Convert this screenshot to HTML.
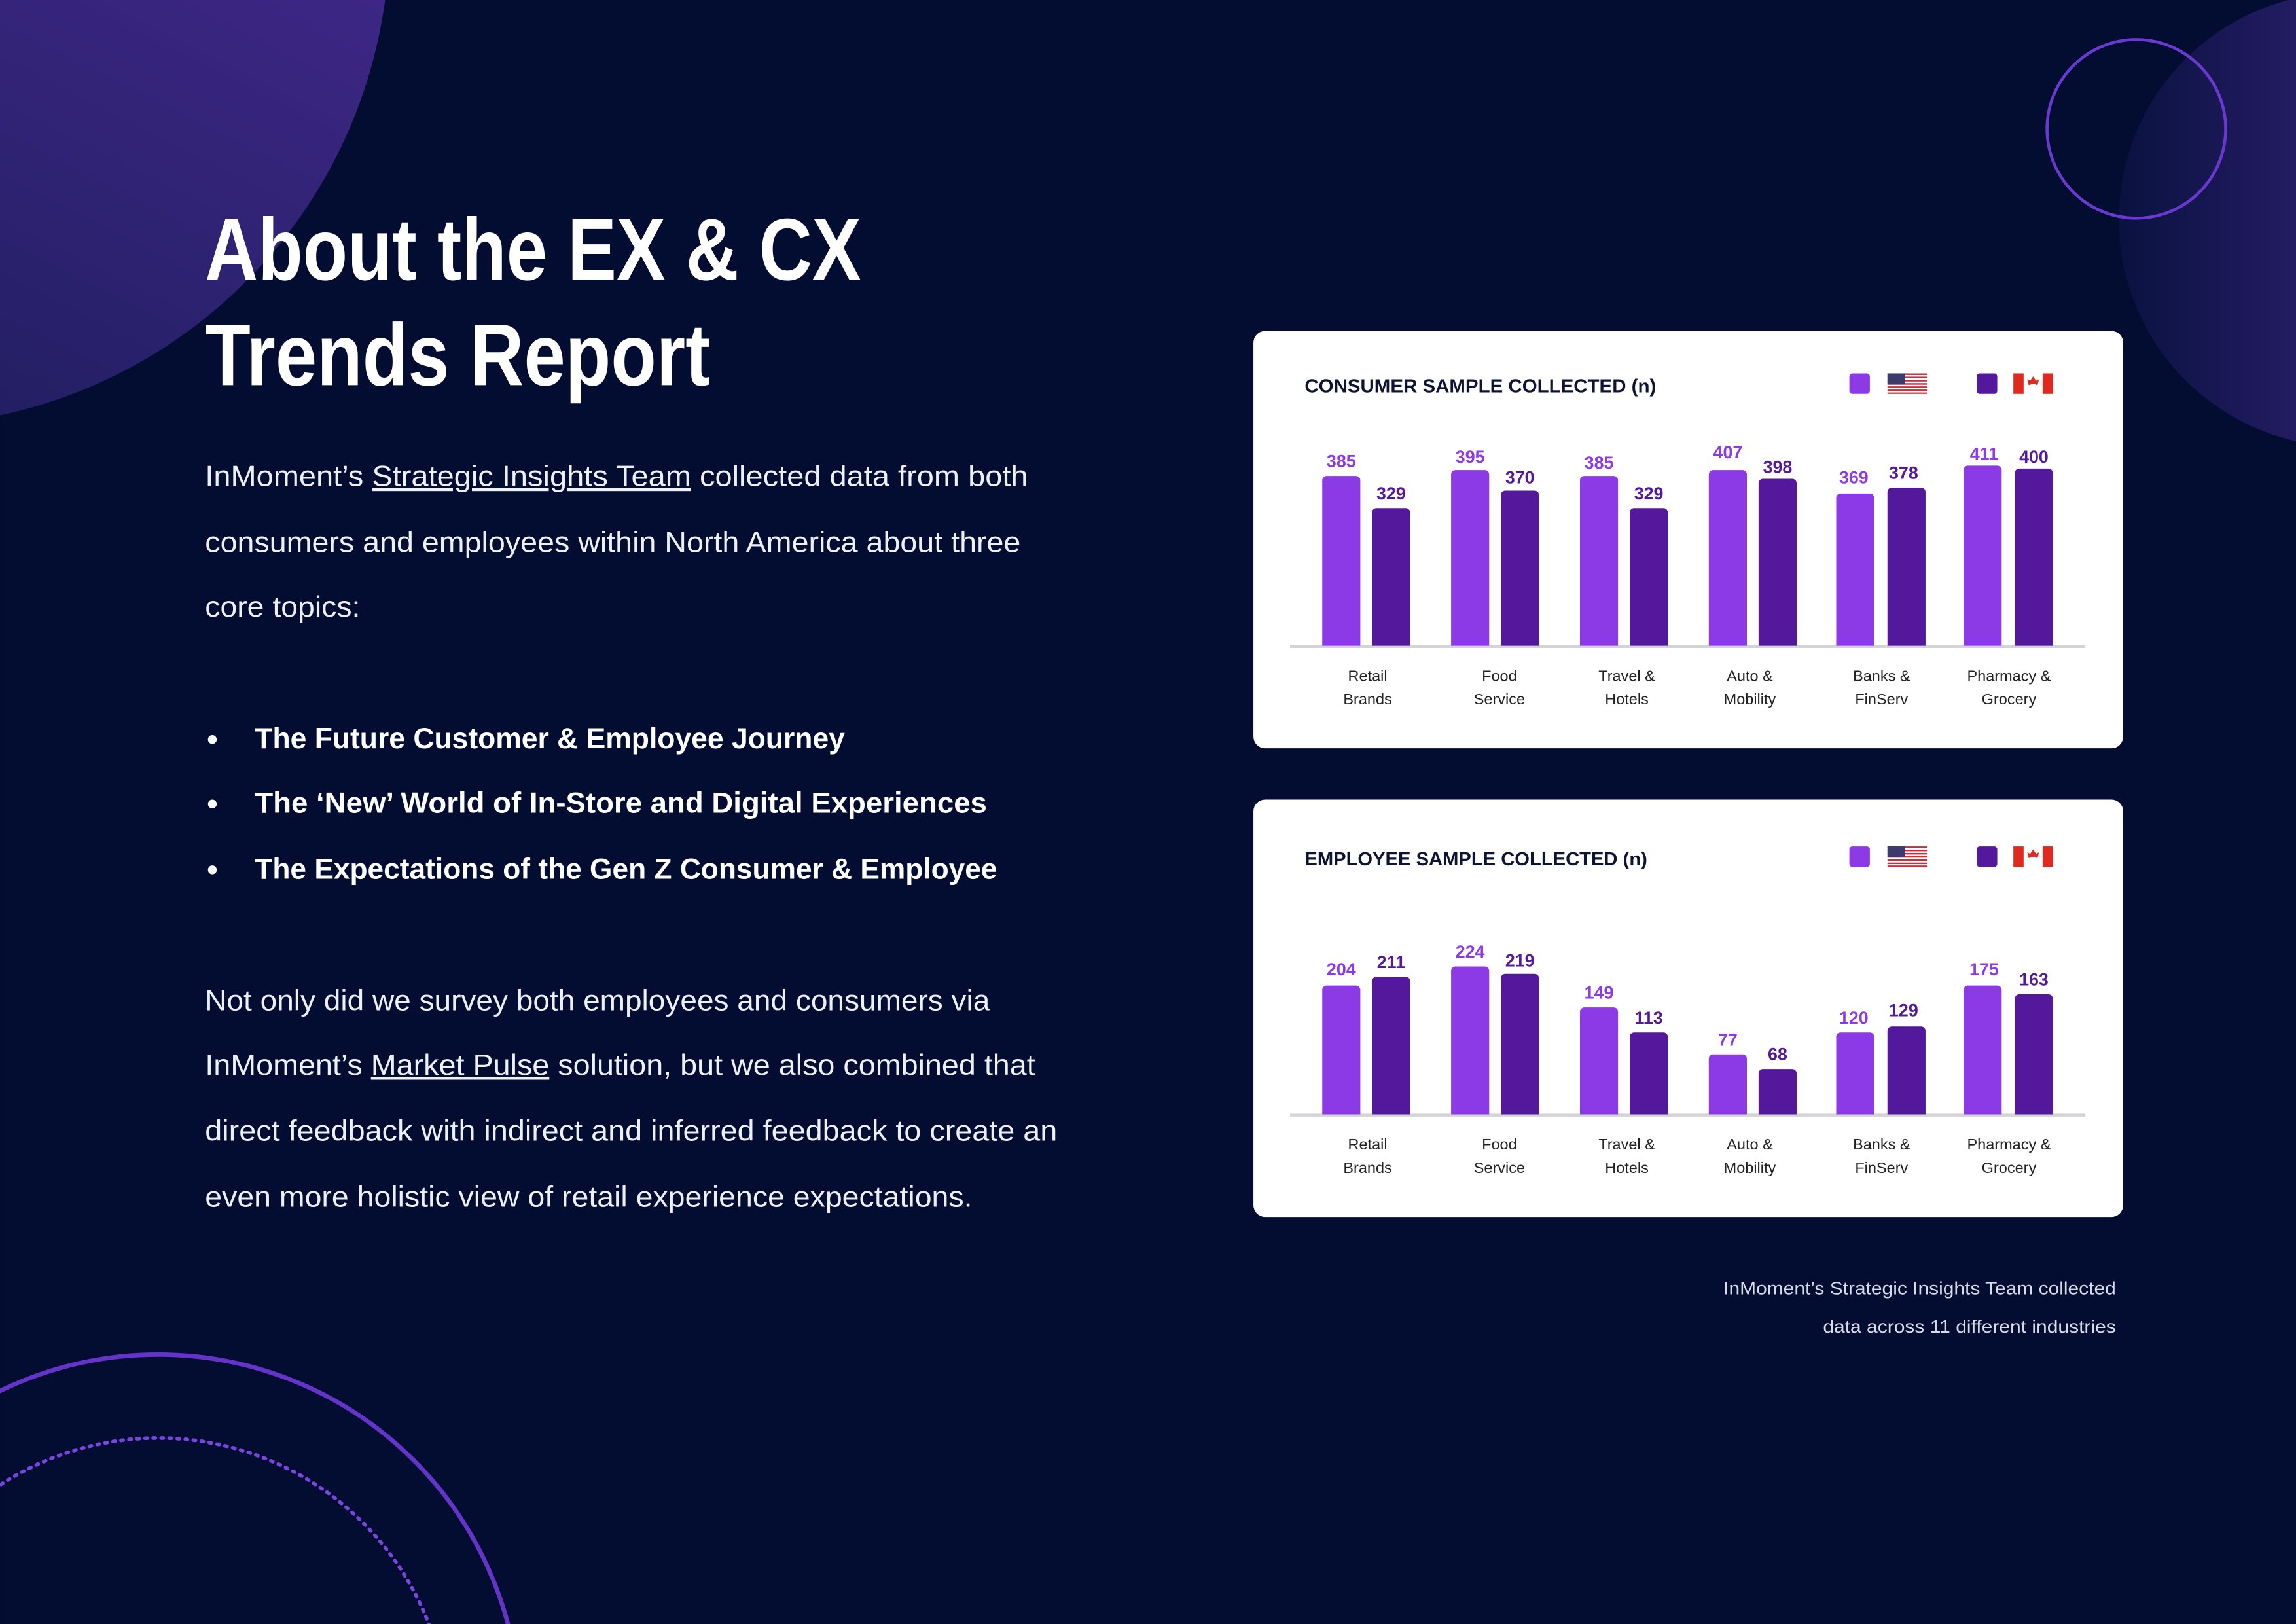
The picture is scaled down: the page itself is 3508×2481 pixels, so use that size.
<!DOCTYPE html>
<html><head><meta charset="utf-8"><style>
html,body{margin:0;padding:0;background:#020d31;width:3508px;height:2481px;overflow:hidden;}
svg{display:block}
text{font-family:"Liberation Sans",sans-serif}
</style></head><body>
<svg width="3508" height="2481" viewBox="0 0 1568 1109" xmlns="http://www.w3.org/2000/svg">
<defs>
<linearGradient id="g1" x1="0.7" y1="0" x2="0.2" y2="1">
<stop offset="0" stop-color="#4f2c9c"/><stop offset="1" stop-color="#1a1c58"/></linearGradient>
<linearGradient id="g2" x1="0" y1="0" x2="1" y2="0">
<stop offset="0" stop-color="#0a1240"/><stop offset="1" stop-color="#4a2a98"/></linearGradient>
</defs>
<rect width="1568" height="1109" fill="#020d31"/>
<circle cx="-70" cy="-45" r="336" fill="url(#g1)"/>
<circle cx="1602" cy="150" r="155" fill="url(#g2)"/>
<circle cx="1459" cy="88" r="61" fill="none" stroke="#6a3ad0" stroke-width="2"/>
<circle cx="108" cy="1172" r="247" fill="none" stroke="#6433c8" stroke-width="3"/>
<circle cx="108" cy="1180" r="198" fill="none" stroke="#7a45dc" stroke-width="2.5" stroke-dasharray="1.5 4" stroke-linecap="round"/>

<g fill="#fff" font-weight="bold">
<text x="140" y="191" font-size="60" textLength="448" lengthAdjust="spacingAndGlyphs">About the EX &amp; CX</text>
<text x="140" y="263" font-size="60" textLength="345" lengthAdjust="spacingAndGlyphs">Trends Report</text>
</g>
<g fill="#eef0f8" font-size="20">
<text x="140" y="332" textLength="562" lengthAdjust="spacingAndGlyphs">InMoment’s <tspan text-decoration="underline">Strategic Insights Team</tspan> collected data from both</text>
<text x="140" y="377" textLength="557" lengthAdjust="spacingAndGlyphs">consumers and employees within North America about three</text>
<text x="140" y="421" textLength="106" lengthAdjust="spacingAndGlyphs">core topics:</text>
<text x="140" y="690" textLength="536" lengthAdjust="spacingAndGlyphs">Not only did we survey both employees and consumers via</text>
<text x="140" y="734" textLength="567" lengthAdjust="spacingAndGlyphs">InMoment’s <tspan text-decoration="underline">Market Pulse</tspan> solution, but we also combined that</text>
<text x="140" y="779" textLength="582" lengthAdjust="spacingAndGlyphs">direct feedback with indirect and inferred feedback to create an</text>
<text x="140" y="824" textLength="524" lengthAdjust="spacingAndGlyphs">even more holistic view of retail experience expectations.</text>
</g>
<g fill="#fff" font-size="20" font-weight="bold">
<circle cx="145" cy="505" r="3"/><circle cx="145" cy="549" r="3"/><circle cx="145" cy="594" r="3"/>
<text x="174" y="511" textLength="403" lengthAdjust="spacingAndGlyphs">The Future Customer &amp; Employee Journey</text>
<text x="174" y="555" textLength="500" lengthAdjust="spacingAndGlyphs">The ‘New’ World of In-Store and Digital Experiences</text>
<text x="174" y="600" textLength="507" lengthAdjust="spacingAndGlyphs">The Expectations of the Gen Z Consumer &amp; Employee</text>
</g>
<g fill="#d8dbe8" font-size="12.5" text-anchor="end">
<text x="1445" y="884" textLength="268" lengthAdjust="spacingAndGlyphs">InMoment’s Strategic Insights Team collected</text>
<text x="1445" y="910" textLength="200" lengthAdjust="spacingAndGlyphs">data across 11 different industries</text>
</g>

<!-- Card 1 -->
<rect x="856" y="226" width="594" height="285" rx="8" fill="#fff"/>
<text x="891" y="268" font-size="13" font-weight="bold" fill="#0d1433" textLength="240" lengthAdjust="spacingAndGlyphs">CONSUMER SAMPLE COLLECTED (n)</text>
<rect x="1263" y="255" width="14" height="14" rx="2" fill="#8b3ae6"/>
<rect x="1350" y="255" width="14" height="14" rx="2" fill="#53189c"/>
<g id="flags">
<rect x="1289" y="255" width="27" height="14" fill="#fff"/>
<g fill="#c8303c"><rect x="1289" y="255" width="27" height="1.1"/><rect x="1289" y="257.2" width="27" height="1.1"/><rect x="1289" y="259.4" width="27" height="1.1"/><rect x="1289" y="261.6" width="27" height="1.1"/><rect x="1289" y="263.8" width="27" height="1.1"/><rect x="1289" y="266" width="27" height="1.1"/><rect x="1289" y="268" width="27" height="1"/></g>
<rect x="1289" y="255" width="12" height="7.5" fill="#3c3b6e"/>
<rect x="1375" y="255" width="27" height="14" fill="#fff"/>
<rect x="1375" y="255" width="7" height="14" fill="#e02a20"/><rect x="1395" y="255" width="7" height="14" fill="#e02a20"/>
<path d="M1388.5 257 l2 3 l2 -1 l-1 4 l-3 -1 l-3 1 l-1 -4 l2 1 z" fill="#e02a20"/>
</g>
<line x1="881" y1="441.5" x2="1424" y2="441.5" stroke="#d3d3d8" stroke-width="2"/>
<g>
<path d="M903 441V328a3 3 0 0 1 3-3h20a3 3 0 0 1 3 3V441z" fill="#8b3ae6"/>
<path d="M937 441V350a3 3 0 0 1 3-3h20a3 3 0 0 1 3 3V441z" fill="#53189c"/>
<path d="M991 441V324a3 3 0 0 1 3-3h20a3 3 0 0 1 3 3V441z" fill="#8b3ae6"/>
<path d="M1025 441V338a3 3 0 0 1 3-3h20a3 3 0 0 1 3 3V441z" fill="#53189c"/>
<path d="M1079 441V328a3 3 0 0 1 3-3h20a3 3 0 0 1 3 3V441z" fill="#8b3ae6"/>
<path d="M1113 441V350a3 3 0 0 1 3-3h20a3 3 0 0 1 3 3V441z" fill="#53189c"/>
<path d="M1167 441V324a3 3 0 0 1 3-3h20a3 3 0 0 1 3 3V441z" fill="#8b3ae6"/>
<path d="M1201 441V330a3 3 0 0 1 3-3h20a3 3 0 0 1 3 3V441z" fill="#53189c"/>
<path d="M1254 441V340a3 3 0 0 1 3-3h20a3 3 0 0 1 3 3V441z" fill="#8b3ae6"/>
<path d="M1289 441V336a3 3 0 0 1 3-3h20a3 3 0 0 1 3 3V441z" fill="#53189c"/>
<path d="M1341 441V321a3 3 0 0 1 3-3h20a3 3 0 0 1 3 3V441z" fill="#8b3ae6"/>
<path d="M1376 441V323a3 3 0 0 1 3-3h20a3 3 0 0 1 3 3V441z" fill="#53189c"/>
</g>
<g font-size="12" font-weight="bold" text-anchor="middle">
<g fill="#8b3ae6"><text x="916" y="319">385</text><text x="1004" y="316">395</text><text x="1092" y="320">385</text><text x="1180" y="313">407</text><text x="1266" y="330">369</text><text x="1355" y="314">411</text></g>
<g fill="#53189c"><text x="950" y="341">329</text><text x="1038" y="330">370</text><text x="1126" y="341">329</text><text x="1214" y="323">398</text><text x="1300" y="327">378</text><text x="1389" y="316">400</text></g>
</g>
<g font-size="10.5" fill="#222" text-anchor="middle">
<text x="934" y="465">Retail</text><text x="934" y="481">Brands</text>
<text x="1024" y="465">Food</text><text x="1024" y="481">Service</text>
<text x="1111" y="465">Travel &amp;</text><text x="1111" y="481">Hotels</text>
<text x="1195" y="465">Auto &amp;</text><text x="1195" y="481">Mobility</text>
<text x="1285" y="465">Banks &amp;</text><text x="1285" y="481">FinServ</text>
<text x="1372" y="465">Pharmacy &amp;</text><text x="1372" y="481">Grocery</text>
</g>

<!-- Card 2 -->
<rect x="856" y="546" width="594" height="285" rx="8" fill="#fff"/>
<text x="891" y="591" font-size="13" font-weight="bold" fill="#0d1433" textLength="234" lengthAdjust="spacingAndGlyphs">EMPLOYEE SAMPLE COLLECTED (n)</text>
<rect x="1263" y="578" width="14" height="14" rx="2" fill="#8b3ae6"/>
<rect x="1350" y="578" width="14" height="14" rx="2" fill="#53189c"/>
<use href="#flags" transform="translate(0,323)"/>
<line x1="881" y1="761.5" x2="1424" y2="761.5" stroke="#d3d3d8" stroke-width="2"/>
<g>
<path d="M903 761V676a3 3 0 0 1 3-3h20a3 3 0 0 1 3 3V761z" fill="#8b3ae6"/>
<path d="M937 761V670a3 3 0 0 1 3-3h20a3 3 0 0 1 3 3V761z" fill="#53189c"/>
<path d="M991 761V663a3 3 0 0 1 3-3h20a3 3 0 0 1 3 3V761z" fill="#8b3ae6"/>
<path d="M1025 761V668a3 3 0 0 1 3-3h20a3 3 0 0 1 3 3V761z" fill="#53189c"/>
<path d="M1079 761V691a3 3 0 0 1 3-3h20a3 3 0 0 1 3 3V761z" fill="#8b3ae6"/>
<path d="M1113 761V708a3 3 0 0 1 3-3h20a3 3 0 0 1 3 3V761z" fill="#53189c"/>
<path d="M1167 761V723a3 3 0 0 1 3-3h20a3 3 0 0 1 3 3V761z" fill="#8b3ae6"/>
<path d="M1201 761V733a3 3 0 0 1 3-3h20a3 3 0 0 1 3 3V761z" fill="#53189c"/>
<path d="M1254 761V708a3 3 0 0 1 3-3h20a3 3 0 0 1 3 3V761z" fill="#8b3ae6"/>
<path d="M1289 761V704a3 3 0 0 1 3-3h20a3 3 0 0 1 3 3V761z" fill="#53189c"/>
<path d="M1341 761V676a3 3 0 0 1 3-3h20a3 3 0 0 1 3 3V761z" fill="#8b3ae6"/>
<path d="M1376 761V682a3 3 0 0 1 3-3h20a3 3 0 0 1 3 3V761z" fill="#53189c"/>
</g>
<g font-size="12" font-weight="bold" text-anchor="middle">
<g fill="#8b3ae6"><text x="916" y="666">204</text><text x="1004" y="654">224</text><text x="1092" y="682">149</text><text x="1180" y="714">77</text><text x="1266" y="699">120</text><text x="1355" y="666">175</text></g>
<g fill="#53189c"><text x="950" y="661">211</text><text x="1038" y="660">219</text><text x="1126" y="699">113</text><text x="1214" y="724">68</text><text x="1300" y="694">129</text><text x="1389" y="673">163</text></g>
</g>
<g font-size="10.5" fill="#222" text-anchor="middle">
<text x="934" y="785">Retail</text><text x="934" y="801">Brands</text>
<text x="1024" y="785">Food</text><text x="1024" y="801">Service</text>
<text x="1111" y="785">Travel &amp;</text><text x="1111" y="801">Hotels</text>
<text x="1195" y="785">Auto &amp;</text><text x="1195" y="801">Mobility</text>
<text x="1285" y="785">Banks &amp;</text><text x="1285" y="801">FinServ</text>
<text x="1372" y="785">Pharmacy &amp;</text><text x="1372" y="801">Grocery</text>
</g>
</svg>
</body></html>
